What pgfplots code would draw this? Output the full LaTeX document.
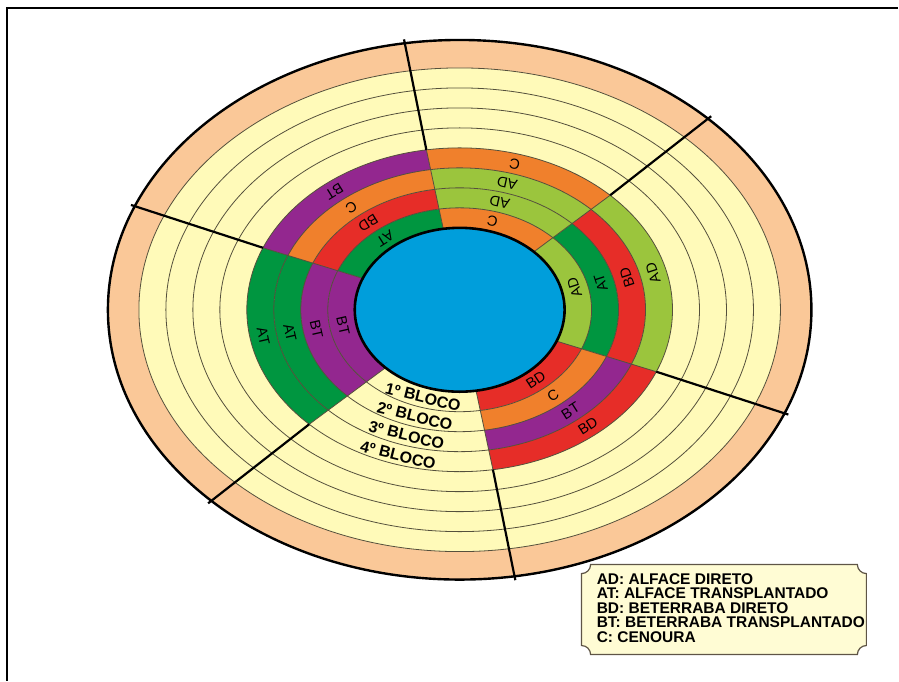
\documentclass[border=0pt]{standalone}
\usepackage{fontspec}
\setmainfont{Liberation Sans}
\usepackage{pgfplots}
\pgfplotsset{compat=1.18}
\definecolor{cblue}{RGB}{0,158,219}
\definecolor{cdg}{RGB}{0,150,64}
\definecolor{clg}{RGB}{155,197,61}
\definecolor{cred}{RGB}{230,45,40}
\definecolor{cor}{RGB}{240,128,44}
\definecolor{cpu}{RGB}{147,39,143}
\definecolor{cyel}{RGB}{255,250,185}
\definecolor{cpeach}{RGB}{250,200,152}
\definecolor{cline}{RGB}{85,80,60}
\definecolor{legfill}{RGB}{255,252,212}
\definecolor{legline}{RGB}{95,85,70}
% ring segment: t1 t2 inner-rx inner-ry outer-rx outer-ry colour
\newcommand\seg[7]{\fill[#7] (#1:#5pt and #6pt) arc[start angle=#1,end angle=#2,x radius=#5pt,y radius=#6pt] -- (#2:#3pt and #4pt) arc[start angle=#2,end angle=#1,x radius=#3pt,y radius=#4pt] -- cycle;}
\newcommand\sector[6]{%
 \seg{#1}{#2}{105}{82}{132}{102}{#3}%
 \seg{#1}{#2}{132}{102}{159}{122}{#4}%
 \seg{#1}{#2}{159}{122}{186}{142}{#5}%
 \seg{#1}{#2}{186}{142}{213}{162}{#6}}
\newcommand\lab[4]{\node[rotate={atan2((#3)*cos(#1),-(#2)*sin(#1))},font=\fontsize{14.5}{16}\selectfont,inner sep=0pt] at (#1:#2pt and #3pt) {#4};}
\newcommand\blk[4]{\node[rotate={atan2((#3)*cos(#1),-(#2)*sin(#1))},font=\fontsize{16}{18}\selectfont\bfseries,inner sep=0pt] at (#1:#2pt and #3pt) {#4};}
\begin{document}
\begin{tikzpicture}
\begin{axis}[width=899pt,height=681pt,scale only axis,xmin=0,xmax=899,ymin=0,ymax=681,hide axis,clip=false]
\path (axis cs:0,0) rectangle (axis cs:899,681);
\pgfplotsextra{%
\begin{scope}[shift={(axis cs:460,371)}]
 \fill[cpeach] (0pt,0pt) ellipse[x radius=352pt,y radius=270pt];
 \fill[cyel] (0pt,0pt) ellipse[x radius=321pt,y radius=242pt];
 \sector{-22.5}{45}{clg}{cdg}{cred}{clg}
 \sector{45}{99}{cor}{clg}{clg}{cor}
 \sector{99}{157.5}{cdg}{cred}{cor}{cpu}
 \sector{157.5}{225}{cpu}{cpu}{cdg}{cdg}
 \sector{279}{337.5}{cred}{cor}{cpu}{cred}
 \foreach \rx/\ry in {132/102,159/122,186/142,213/162,240/182,267/202,294/222,321/242}{
   \draw[cline,line width=0.8pt] (0pt,0pt) ellipse[x radius=\rx pt,y radius=\ry pt];}
 \draw[black,line width=2.4pt] (0pt,0pt) ellipse[x radius=352pt,y radius=270pt];
\end{scope}}
% thin sector boundaries in the coloured rings
\addplot[cline,line width=0.8pt,mark=none] coordinates {(443.6,452.0) (426.7,531.0)};
\addplot[cline,line width=0.8pt,mark=none] coordinates {(534.2,429.0) (610.6,485.6)};
\addplot[cline,line width=0.8pt,mark=none] coordinates {(557.0,339.6) (656.8,309.0)};
\addplot[cline,line width=0.8pt,mark=none] coordinates {(476.4,290.0) (493.3,211.0)};
\addplot[cline,line width=0.8pt,mark=none] coordinates {(385.8,313.0) (309.4,256.4)};
\addplot[cline,line width=0.8pt,mark=none] coordinates {(363.0,402.4) (263.2,433.0)};
\pgfplotsextra{%
\begin{scope}[shift={(axis cs:460,371)}]
 \draw[black,fill=cblue,line width=2.6pt] (0pt,0pt) ellipse[x radius=105pt,y radius=82pt];
\end{scope}}
% thick radial lines
\addplot[black,line width=2.2pt,mark=none] coordinates {(426.7,531.0) (404.3,641.6)};
\addplot[black,line width=2.2pt,mark=none] coordinates {(610.6,485.6) (711.7,564.7)};
\addplot[black,line width=2.2pt,mark=none] coordinates {(656.8,309.0) (788.9,266.1)};
\addplot[black,line width=2.2pt,mark=none] coordinates {(493.3,211.0) (515.7,100.4)};
\addplot[black,line width=2.2pt,mark=none] coordinates {(309.4,256.4) (208.3,177.3)};
\addplot[black,line width=2.2pt,mark=none] coordinates {(263.2,433.0) (131.1,475.9)};
% frame
\addplot[black,line width=1.3pt,mark=none] coordinates {(7,0) (7,673) (899,673)};
\pgfplotsextra{%
\begin{scope}[shift={(axis cs:460,371)}]
 % sector right
 \lab{14}{118.5}{92}{AD}\lab{14}{145.5}{112}{AT}\lab{14}{172.5}{132}{BD}\lab{14}{199.5}{152}{AD}
 % sector top
 \lab{74}{118.5}{92}{C}\lab{74}{145.5}{112}{AD}\lab{74}{172.5}{132}{AD}\lab{74}{199.5}{152}{C}
 % sector top-left
 \lab{129}{118.5}{92}{AT}\lab{129}{145.5}{112}{BD}\lab{129}{172.5}{132}{C}\lab{129}{199.5}{152}{BT}
 % sector left
 \lab{190}{118.5}{92}{BT}\lab{190}{145.5}{112}{BT}\lab{190}{172.5}{132}{AT}\lab{190}{199.5}{152}{AT}
 % sector lower-right
 \lab{-50}{118.5}{92}{BD}\lab{-50}{145.5}{112}{C}\lab{-50}{172.5}{132}{BT}\lab{-50}{199.5}{152}{BD}
 % blocks
 \blk{252}{118.5}{92}{1º BLOCO}\blk{252}{145.5}{112}{2º BLOCO}\blk{252}{172.5}{132}{3º BLOCO}\blk{252}{199.5}{153}{4º BLOCO}
\end{scope}
\draw[fill=legfill,draw=legline,line width=1.2pt] (axis cs:591,116) -- (axis cs:858,116) arc[start angle=180,end angle=270,radius=9pt] -- (axis cs:867,35) arc[start angle=90,end angle=180,radius=9pt] -- (axis cs:591,26) arc[start angle=0,end angle=90,radius=9pt] -- (axis cs:582,107) arc[start angle=270,end angle=360,radius=9pt] -- cycle;
\begin{scope}[font=\fontsize{15.5}{17}\selectfont\bfseries]
 \node[anchor=base west,inner sep=0pt] at (axis cs:597,96) {AD: ALFACE DIRETO};
 \node[anchor=base west,inner sep=0pt] at (axis cs:597,82) {AT: ALFACE TRANSPLANTADO};
 \node[anchor=base west,inner sep=0pt] at (axis cs:597,67.5) {BD: BETERRABA DIRETO};
 \node[anchor=base west,inner sep=0pt] at (axis cs:597,53) {BT: BETERRABA TRANSPLANTADO};
 \node[anchor=base west,inner sep=0pt] at (axis cs:597,38.5) {C: CENOURA};
\end{scope}}
\end{axis}
\end{tikzpicture}
\end{document}
